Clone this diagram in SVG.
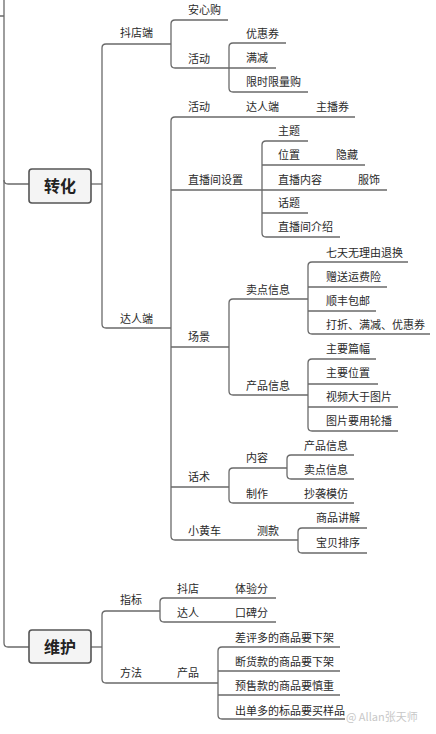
<svg xmlns="http://www.w3.org/2000/svg" width="436" height="734" viewBox="0 0 436 734">
<style>
text{font-family:"Noto Sans CJK SC","Liberation Sans",sans-serif;font-size:11px;fill:#2a2a2a}
.c path{fill:none;stroke:#6a6a6a;stroke-width:1.3}
.box rect{fill:#f4f4f4;stroke:#555;stroke-width:1.6}
.box text{font-size:16px;font-weight:bold;text-anchor:middle;fill:#222}
.wm{fill:#c8c8c8;font-size:11px}
</style>
<rect width="436" height="734" fill="#fff"/>
<g id="connectors" class="c">
<path d="M0,16 H4 M4,0 V643 Q4,647 8,647 H29"/>
<path d="M4,180 Q4,184 8,184 H29"/>
<path d="M91,184 H102"/>
<path d="M171,44 H106 Q102,44 102,48 V324 Q102,328 106,328 H171"/>
<path d="M228,20 H175 Q171,20 171,24 V64 Q171,68 175,68 H229"/>
<path d="M286,43 H233 Q229,43 229,47 V88 Q229,92 233,92 H308 M229,68 H276"/>
<path d="M355,117 H175 Q171,117 171,121 V536 Q171,540 175,540 H298"/>
<path d="M171,190 H262 M171,347 H229 M171,487 H229"/>
<path d="M308,141 H266 Q262,141 262,145 V233 Q262,237 266,237 H340 M262,165 H365 M262,190 H387 M262,213 H308"/>
<path d="M308,299 H233 Q229,299 229,303 V391 Q229,395 233,395 H308"/>
<path d="M408,262 H312 Q308,262 308,266 V330 Q308,334 312,334 H430 M308,287 H387 M308,311 H376"/>
<path d="M376,359 H312 Q308,359 308,363 V427 Q308,431 312,431 H398 M308,384 H378 M308,407 H398"/>
<path d="M287,468 H233 Q229,468 229,472 V499 Q229,503 233,503 H354"/>
<path d="M354,455 H291 Q287,455 287,459 V475 Q287,479 291,479 H354"/>
<path d="M367,528 H302 Q298,528 298,532 V549 Q298,553 302,553 H367"/>
<path d="M91,647 H102"/>
<path d="M160,611 H106 Q102,611 102,615 V679 Q102,683 106,683 H218"/>
<path d="M276,598 H164 Q160,598 160,602 V618 Q160,622 164,622 H276"/>
<path d="M340,647 H222 Q218,647 218,651 V715 Q218,719 222,719 H345 M218,671 H340 M218,695 H340"/>
</g>
<g id="n-zhuanhua" class="box"><rect x="29" y="169" width="62" height="34" rx="3"/><text x="60" y="192">转化</text></g>
<g id="n-douding"><text x="120" y="37">抖店端</text></g>
<g id="n-anxingou"><text x="188" y="14">安心购</text></g>
<g id="n-huodong1"><text x="188" y="63">活动</text></g>
<g id="n-youhuiquan"><text x="246" y="38">优惠券</text></g>
<g id="n-manjian"><text x="246" y="62">满减</text></g>
<g id="n-xianshi"><text x="246" y="86">限时限量购</text></g>
<g id="n-daren"><text x="120" y="323">达人端</text></g>
<g id="n-huodong2"><text x="188" y="111">活动</text><text x="246" y="111">达人端</text><text x="316" y="111">主播券</text></g>
<g id="n-zhibojian"><text x="188" y="184">直播间设置</text></g>
<g id="n-zhuti"><text x="278" y="135">主题</text></g>
<g id="n-weizhi"><text x="278" y="159">位置</text><text x="336" y="159">隐藏</text></g>
<g id="n-zhibonr"><text x="278" y="184">直播内容</text><text x="358" y="184">服饰</text></g>
<g id="n-huati"><text x="278" y="207">话题</text></g>
<g id="n-jieshao"><text x="278" y="231">直播间介绍</text></g>
<g id="n-changjing"><text x="188" y="341">场景</text></g>
<g id="n-maidian"><text x="246" y="294">卖点信息</text></g>
<g id="n-qitian"><text x="326" y="257">七天无理由退换</text></g>
<g id="n-zengsong"><text x="326" y="281">赠送运费险</text></g>
<g id="n-shunfeng"><text x="326" y="305">顺丰包邮</text></g>
<g id="n-dazhe"><text x="326" y="329">打折、满减、优惠券</text></g>
<g id="n-chanpin"><text x="246" y="390">产品信息</text></g>
<g id="n-pianfu"><text x="326" y="353">主要篇幅</text></g>
<g id="n-zhuyaowz"><text x="326" y="377">主要位置</text></g>
<g id="n-shipin"><text x="326" y="401">视频大于图片</text></g>
<g id="n-lunbo"><text x="326" y="425">图片要用轮播</text></g>
<g id="n-huashu"><text x="188" y="481">话术</text></g>
<g id="n-neirong"><text x="246" y="462">内容</text></g>
<g id="n-cpxx"><text x="304" y="450">产品信息</text></g>
<g id="n-mdxx"><text x="304" y="474">卖点信息</text></g>
<g id="n-zhizuo"><text x="246" y="498">制作</text><text x="304" y="498">抄袭模仿</text></g>
<g id="n-xiaohuangche"><text x="188" y="535">小黄车</text><text x="257" y="535">测款</text></g>
<g id="n-jiangjie"><text x="316" y="522">商品讲解</text></g>
<g id="n-paixu"><text x="316" y="547">宝贝排序</text></g>
<g id="n-weihu" class="box"><rect x="29" y="630" width="62" height="33" rx="3"/><text x="60" y="653">维护</text></g>
<g id="n-zhibiao"><text x="120" y="604">指标</text></g>
<g id="n-doudian2"><text x="177" y="593">抖店</text><text x="235" y="593">体验分</text></g>
<g id="n-daren2"><text x="177" y="617">达人</text><text x="235" y="617">口碑分</text></g>
<g id="n-fangfa"><text x="120" y="677">方法</text><text x="177" y="677">产品</text></g>
<g id="n-chaping"><text x="235" y="642">差评多的商品要下架</text></g>
<g id="n-duanhuo"><text x="235" y="666">断货款的商品要下架</text></g>
<g id="n-yushou"><text x="235" y="690">预售款的商品要慎重</text></g>
<g id="n-chudan"><text x="235" y="715">出单多的标品要买样品</text></g>
<text class="wm" x="346" y="721">@ Allan张天师</text>
</svg>
